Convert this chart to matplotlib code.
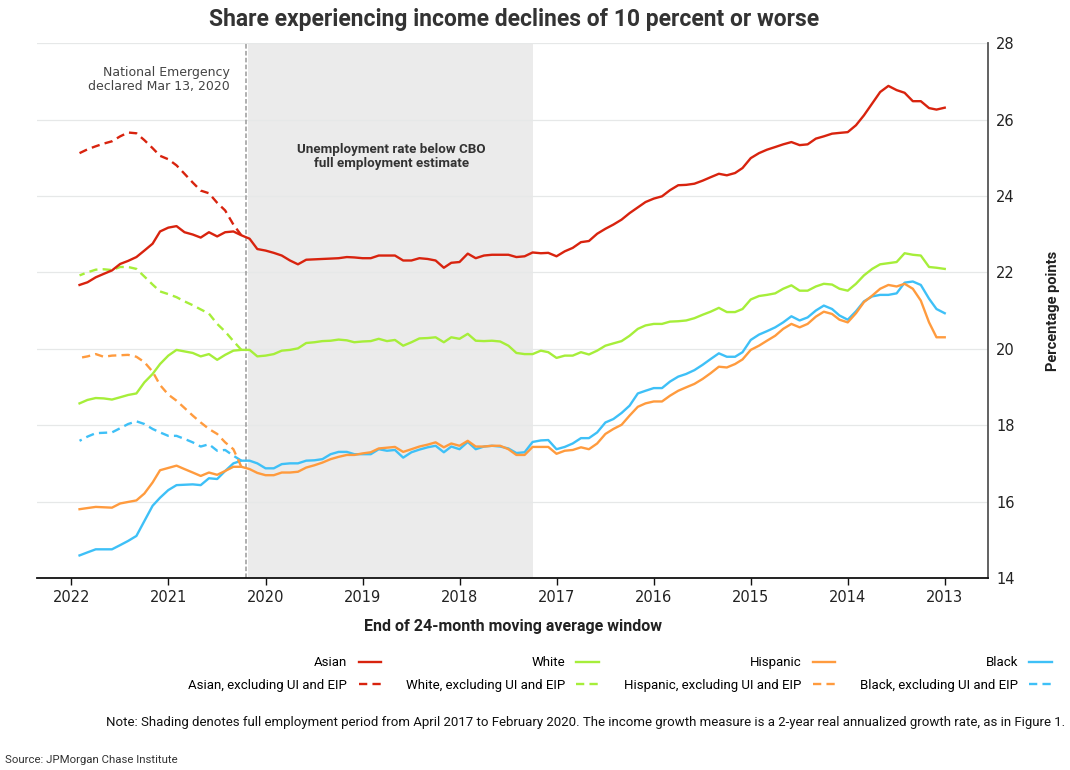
import matplotlib
matplotlib.use('Agg')
import matplotlib.pyplot as plt
import matplotlib.dates as mdates
import pandas as pd

# monthly values, Jan 2013 .. Dec 2021
months = pd.date_range('2013-01-01', periods=108, freq='MS')
# Apr 2020 .. Dec 2021, series excluding UI and EIP
months_excl = pd.date_range('2020-04-01', periods=21, freq='MS')

asian = [26.31, 26.26, 26.30, 26.48, 26.48, 26.70, 26.77, 26.88, 26.72, 26.42,
         26.11, 25.85, 25.67, 25.65, 25.63, 25.56, 25.50, 25.35, 25.33, 25.41,
         25.35, 25.28, 25.21, 25.12, 24.99, 24.73, 24.60, 24.54, 24.58, 24.49,
         24.40, 24.32, 24.29, 24.28, 24.15, 23.99, 23.93, 23.84, 23.70, 23.55,
         23.38, 23.25, 23.14, 23.01, 22.82, 22.79, 22.64, 22.55, 22.42, 22.51,
         22.50, 22.52, 22.42, 22.40, 22.46, 22.46, 22.46, 22.44, 22.37, 22.49,
         22.27, 22.25, 22.12, 22.31, 22.35, 22.37, 22.31, 22.31, 22.44, 22.44,
         22.44, 22.37, 22.37, 22.39, 22.40, 22.37, 22.36, 22.35, 22.34, 22.33,
         22.21, 22.31, 22.44, 22.51, 22.57, 22.61, 22.88, 22.97, 23.07, 23.05,
         22.94, 23.05, 22.91, 22.99, 23.05, 23.21, 23.17, 23.07, 22.75, 22.57,
         22.40, 22.30, 22.22, 22.05, 21.96, 21.87, 21.74, 21.67]

white = [22.09, 22.12, 22.14, 22.44, 22.46, 22.50, 22.27, 22.24, 22.21, 22.09,
         21.92, 21.70, 21.52, 21.57, 21.68, 21.70, 21.63, 21.52, 21.52, 21.66,
         21.57, 21.45, 21.41, 21.38, 21.29, 21.04, 20.96, 20.96, 21.07, 20.97,
         20.89, 20.80, 20.74, 20.72, 20.71, 20.65, 20.65, 20.61, 20.52, 20.34,
         20.20, 20.14, 20.08, 19.95, 19.85, 19.91, 19.82, 19.82, 19.76, 19.91,
         19.95, 19.86, 19.86, 19.89, 20.08, 20.19, 20.21, 20.20, 20.21, 20.39,
         20.26, 20.30, 20.17, 20.30, 20.28, 20.27, 20.17, 20.08, 20.23, 20.20,
         20.26, 20.20, 20.19, 20.17, 20.22, 20.24, 20.21, 20.20, 20.17, 20.15,
         20.01, 19.97, 19.95, 19.86, 19.82, 19.80, 19.97, 19.97, 19.95, 19.84,
         19.71, 19.86, 19.80, 19.89, 19.93, 19.97, 19.82, 19.60, 19.34, 19.12,
         18.83, 18.79, 18.73, 18.67, 18.70, 18.71, 18.66, 18.57]

black = [20.93, 21.04, 21.31, 21.67, 21.76, 21.73, 21.45, 21.41, 21.41, 21.37,
         21.24, 20.98, 20.76, 20.87, 21.04, 21.13, 21.00, 20.82, 20.74, 20.85,
         20.69, 20.56, 20.46, 20.37, 20.23, 19.91, 19.79, 19.79, 19.88, 19.73,
         19.58, 19.44, 19.34, 19.27, 19.14, 18.97, 18.97, 18.90, 18.83, 18.51,
         18.32, 18.16, 18.07, 17.81, 17.66, 17.66, 17.52, 17.43, 17.37, 17.61,
         17.60, 17.56, 17.29, 17.27, 17.39, 17.44, 17.46, 17.44, 17.37, 17.56,
         17.37, 17.44, 17.29, 17.46, 17.42, 17.36, 17.29, 17.15, 17.35, 17.33,
         17.37, 17.24, 17.24, 17.24, 17.30, 17.30, 17.24, 17.11, 17.08, 17.07,
         17.00, 17.00, 16.98, 16.87, 16.87, 17.00, 17.07, 17.07, 17.00, 16.80,
         16.59, 16.61, 16.43, 16.45, 16.44, 16.43, 16.30, 16.10, 15.89, 15.49,
         15.10, 14.97, 14.86, 14.75, 14.75, 14.75, 14.67, 14.59]

hispanic = [20.30, 20.30, 20.69, 21.26, 21.57, 21.70, 21.63, 21.67, 21.57, 21.39,
            21.22, 20.93, 20.69, 20.76, 20.91, 20.97, 20.84, 20.65, 20.56, 20.65,
            20.52, 20.34, 20.21, 20.08, 19.97, 19.72, 19.60, 19.51, 19.53, 19.36,
            19.21, 19.08, 18.99, 18.90, 18.77, 18.62, 18.62, 18.57, 18.48, 18.25,
            18.01, 17.90, 17.77, 17.52, 17.37, 17.42, 17.35, 17.33, 17.25, 17.43,
            17.43, 17.43, 17.22, 17.22, 17.37, 17.46, 17.46, 17.44, 17.44, 17.59,
            17.46, 17.52, 17.42, 17.55, 17.49, 17.44, 17.37, 17.30, 17.43, 17.41,
            17.39, 17.29, 17.26, 17.22, 17.22, 17.17, 17.11, 17.02, 16.95, 16.89,
            16.78, 16.76, 16.76, 16.69, 16.69, 16.75, 16.85, 16.91, 16.91, 16.80,
            16.70, 16.76, 16.67, 16.76, 16.85, 16.94, 16.88, 16.82, 16.50, 16.21,
            16.03, 15.99, 15.95, 15.84, 15.85, 15.86, 15.83, 15.80]

asian_excl = [22.97, 23.25, 23.62, 23.82, 24.07, 24.14, 24.35, 24.58, 24.80, 24.96,
              25.05, 25.25, 25.46, 25.64, 25.66, 25.56, 25.43, 25.37, 25.30, 25.22, 25.12]
white_excl = [19.97, 20.20, 20.45, 20.65, 20.92, 21.03, 21.14, 21.24, 21.35, 21.43,
              21.50, 21.68, 21.89, 22.09, 22.14, 22.14, 22.06, 22.08, 22.07, 22.00, 21.92]
black_excl = [17.07, 17.20, 17.35, 17.33, 17.50, 17.44, 17.55, 17.64, 17.72, 17.72,
              17.81, 17.90, 18.03, 18.10, 18.03, 17.92, 17.81, 17.80, 17.79, 17.70, 17.59]
hispanic_excl = [16.91, 17.37, 17.55, 17.77, 17.90, 18.07, 18.25, 18.45, 18.64, 18.80,
                 19.05, 19.40, 19.65, 19.79, 19.84, 19.83, 19.82, 19.79, 19.86, 19.80, 19.76]

BLUE = '#3ec0f7'
ORANGE = '#ff9b3e'
GREEN = '#a6ee3a'
RED = '#d8230e'

fig = plt.figure(figsize=(10.7, 7.7), dpi=100)
ax = fig.add_axes([0.0346, 0.2494, 0.8888, 0.6946])

# full employment shading and national emergency marker
ax.axvspan(pd.Timestamp('2017-04-01'), pd.Timestamp('2020-03-06'), color='#ebebeb', lw=0, zorder=0)
ax.axvline(pd.Timestamp('2020-03-13'), color='#9a9a9a', lw=1.1, dashes=(3, 1.5), zorder=1)

lw = 1.7
ax.plot(months, black, color=BLUE, lw=lw, label='Black', zorder=3)
ax.plot(months_excl, black_excl, color=BLUE, lw=lw, dashes=(3.5, 2.2), label='Black, excluding UI and EIP', zorder=3)
ax.plot(months, hispanic, color=ORANGE, lw=lw, label='Hispanic', zorder=3)
ax.plot(months_excl, hispanic_excl, color=ORANGE, lw=lw, dashes=(3.5, 2.2), label='Hispanic, excluding UI and EIP', zorder=3)
ax.plot(months, white, color=GREEN, lw=lw, label='White', zorder=3)
ax.plot(months_excl, white_excl, color=GREEN, lw=lw, dashes=(3.5, 2.2), label='White, excluding UI and EIP', zorder=3)
ax.plot(months, asian, color=RED, lw=lw, label='Asian', zorder=3)
ax.plot(months_excl, asian_excl, color=RED, lw=lw, dashes=(3.5, 2.2), label='Asian, excluding UI and EIP', zorder=3)

# mirrored layout: time runs right to left, value axis on the right
ax.set_xlim(pd.Timestamp('2022-05-10'), pd.Timestamp('2012-07-22'))
ax.set_ylim(14, 28)
ax.set_yticks([14, 16, 18, 20, 22, 24, 26, 28])
ax.yaxis.tick_right()
ax.yaxis.set_label_position('right')
ax.xaxis.set_major_locator(mdates.YearLocator())
ax.xaxis.set_major_formatter(mdates.DateFormatter('%Y'))
ax.grid(axis='y', color='#e6e8e8', lw=0.9, zorder=0.5)
ax.set_axisbelow(True)

for side in ['left', 'top']:
    ax.spines[side].set_visible(False)
ax.spines['bottom'].set_color('#111111')
ax.spines['bottom'].set_linewidth(1.3)
ax.spines['right'].set_color('#555555')
ax.spines['right'].set_linewidth(1.3)
ax.tick_params(axis='x', length=5, width=1, color='#111111', labelsize=10.5, pad=4, labelcolor='#222222')
ax.tick_params(axis='y', length=0, labelsize=10.5, pad=6, labelcolor='#222222')

ax.set_ylabel('Percentage points', fontsize=10.5, fontweight='bold', family='Roboto',
              rotation=90, labelpad=22, color='#222222')
ax.set_xlabel('End of 24-month moving average window', fontsize=11.5, fontweight='bold',
              family='Roboto', labelpad=10, color='#222222')

ax.text(pd.Timestamp('2018-09-15'), 25.04, 'Unemployment rate below CBO\nfull employment estimate',
        ha='center', va='center', fontsize=9.6, fontweight='bold', family='Roboto',
        color='#333333', linespacing=1.1)
ax.text(pd.Timestamp('2020-05-15'), 27.05, 'National Emergency\ndeclared Mar 13, 2020',
        ha='right', va='center', fontsize=9, color='#444444', linespacing=1.1)

fig.suptitle('Share experiencing income declines of 10 percent or worse', x=0.48, y=0.99,
             fontsize=16.5, fontweight='bold', family='Roboto', color='#333333')

handles, labels = ax.get_legend_handles_labels()
order = [6, 7, 4, 5, 2, 3, 0, 1]
fig.legend([handles[i] for i in order], [labels[i] for i in order], ncol=4,
           markerfirst=False, frameon=False, loc='upper right',
           bbox_to_anchor=(0.994, 0.163), prop={'family': 'Roboto', 'size': 9.5},
           handlelength=1.7, handletextpad=0.85, columnspacing=1.9, labelspacing=0.7)

fig.text(0.995, 0.062, 'Note: Shading denotes full employment period from April 2017 to February 2020. '
         'The income growth measure is a 2-year real annualized growth rate, as in Figure 1.',
         ha='right', va='center', fontsize=9.5, family='Roboto', color='#111111')
fig.text(0.005, 0.013, 'Source: JPMorgan Chase Institute', ha='left', va='center',
         fontsize=8.2, family='Roboto', color='#333333')

fig.savefig('out.png', dpi=100)
